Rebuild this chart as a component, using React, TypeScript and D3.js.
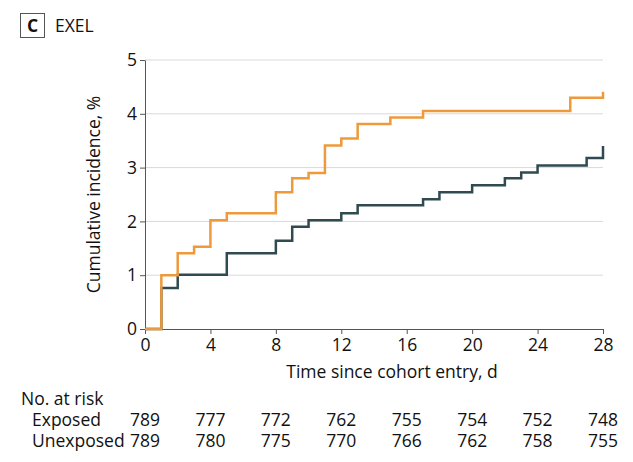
import { useEffect, useRef } from 'react';
import * as d3 from 'd3';

// Step data: [day, cumulative incidence %]
const exposedSteps: [number, number][] = [
  [0, 0], [1, 1.0], [2, 1.41], [3, 1.53], [4, 2.02], [5, 2.15], [8, 2.54], [9, 2.8],
  [10, 2.9], [11, 3.41], [12, 3.54], [13, 3.81], [15, 3.93], [17, 4.05], [26, 4.3], [28, 4.41],
];
const unexposedSteps: [number, number][] = [
  [0, 0], [1, 0.76], [2, 1.01], [5, 1.41], [8, 1.64], [9, 1.9], [10, 2.02], [12, 2.15],
  [13, 2.3], [17, 2.41], [18, 2.54], [20, 2.67], [22, 2.8], [23, 2.91], [24, 3.04], [27, 3.18], [28, 3.4],
];
const xTicks = [0, 4, 8, 12, 16, 20, 24, 28];
const yTicks = [0, 1, 2, 3, 4, 5];
const riskExposed = [789, 777, 772, 762, 755, 754, 752, 748];
const riskUnexposed = [789, 780, 775, 770, 766, 762, 758, 755];

const ORANGE = '#EE9A3C';
const DARK = '#2F4B50';
const FONT = '"Liberation Sans Narrow", "Open Sans", sans-serif';
const FS = 17.5;

export default function App() {
  const ref = useRef<SVGSVGElement>(null);

  useEffect(() => {
    const svg = d3.select(ref.current);
    svg.selectAll('*').remove();
    const x = d3.scaleLinear().domain([0, 28]).range([145, 603]);
    const y = d3.scaleLinear().domain([0, 5]).range([329, 60]);
    const txt = (s: any) => s.attr('font-family', FONT).attr('fill', '#111').attr('font-size', FS);

    // header
    svg.append('rect').attr('x', 20.5).attr('y', 13.5).attr('width', 24).attr('height', 24)
      .attr('fill', 'none').attr('stroke', '#555');
    svg.append('text').attr('x', 32.5).attr('y', 32).attr('text-anchor', 'middle')
      .call(txt).attr('font-weight', 'bold').text('C');
    svg.append('text').attr('x', 55).attr('y', 32).call(txt).text('EXEL');

    // grid
    svg.selectAll('.grid').data(yTicks.filter(d => d > 0)).join('line')
      .attr('x1', x(0)).attr('x2', x(28)).attr('y1', d => y(d)).attr('y2', d => y(d))
      .attr('stroke', '#d9d9d9').attr('stroke-width', 1);

    // axes
    const ya = svg.append('g').attr('transform', `translate(${x(0)},0)`)
      .call(d3.axisLeft(y).tickValues(yTicks).tickFormat(d3.format('d')).tickSize(5).tickSizeOuter(0));
    ya.select('.domain').attr('stroke', '#555');
    ya.selectAll('line').attr('stroke', '#555');
    ya.selectAll('text').attr('font-size', FS).attr('font-family', FONT).attr('fill', '#111');

    const xa = svg.append('g').attr('transform', `translate(0,${y(0)})`)
      .call(d3.axisBottom(x).tickValues(xTicks).tickFormat(d3.format('d')).tickSize(5).tickSizeOuter(0));
    xa.select('.domain').attr('stroke', '#555');
    xa.selectAll('line').attr('stroke', '#555');
    xa.selectAll('text').attr('font-size', FS).attr('font-family', FONT).attr('fill', '#111').attr('dy', '0.8em');

    svg.append('text').attr('x', 392).attr('y', 378).attr('text-anchor', 'middle')
      .call(txt).text('Time since cohort entry, d');
    svg.append('text').attr('transform', `translate(100,${(y(0) + y(5)) / 2}) rotate(-90)`)
      .attr('text-anchor', 'middle').call(txt).text('Cumulative incidence, %');

    // step curves; final day-28 point drawn as a vertical jump
    const line = d3.line<[number, number]>().x(d => x(d[0])).y(d => y(d[1])).curve(d3.curveStepAfter);
    const withEnd = (s: [number, number][]) => {
      const prev = s[s.length - 2];
      const last = s[s.length - 1];
      return [...s.slice(0, -1), [last[0], prev[1]] as [number, number], last];
    };
    svg.append('path').attr('d', line(withEnd(unexposedSteps)) as string)
      .attr('fill', 'none').attr('stroke', DARK).attr('stroke-width', 2.5);
    svg.append('path').attr('d', line(withEnd(exposedSteps)) as string)
      .attr('fill', 'none').attr('stroke', ORANGE).attr('stroke-width', 2.5);

    // risk table
    svg.append('text').attr('x', 21).attr('y', 405).call(txt).text('No. at risk');
    svg.append('text').attr('x', 32).attr('y', 426).call(txt).text('Exposed');
    svg.append('text').attr('x', 32).attr('y', 447).call(txt).text('Unexposed');
    svg.selectAll('.re').data(riskExposed).join('text')
      .attr('x', (_d, i) => x(xTicks[i])).attr('y', 426).attr('text-anchor', 'middle')
      .call(txt).text(d => String(d));
    svg.selectAll('.ru').data(riskUnexposed).join('text')
      .attr('x', (_d, i) => x(xTicks[i])).attr('y', 447).attr('text-anchor', 'middle')
      .call(txt).text(d => String(d));
  }, []);

  return <svg ref={ref} width={633} height={462} style={{ display: 'block', position: 'absolute', left: 0, top: 0, background: '#fff' }} />;
}
